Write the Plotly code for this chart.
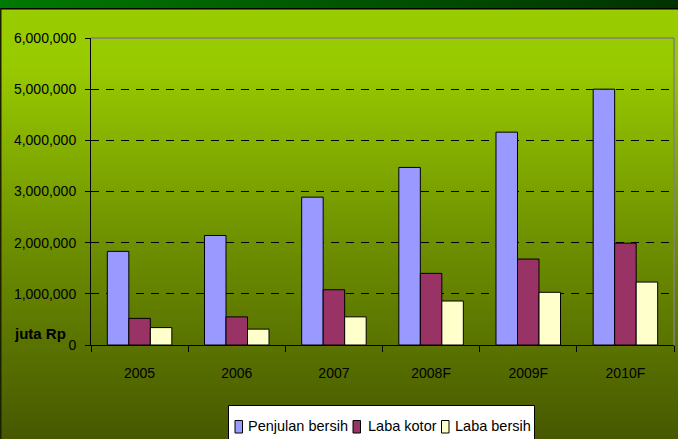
import base64
import plotly.graph_objects as go

years = ["2005", "2006", "2007", "2008F", "2009F", "2010F"]
penjualan_bersih = [1830000, 2140000, 2890000, 3470000, 4160000, 5000000]
laba_kotor = [520000, 550000, 1080000, 1400000, 1680000, 1990000]
laba_bersih = [340000, 310000, 550000, 860000, 1030000, 1230000]
y_ticks = [0, 1000000, 2000000, 3000000, 4000000, 5000000, 6000000]
series_names = ["Penjulan bersih", "Laba kotor", "Laba bersih"]
series_colors = ["#9999ff", "#993366", "#ffffcc"]

W, H = 678, 439
L, R, T, B = 91, 4, 38, 94
PW, PH = W - L - R, H - T - B

FONT = "Liberation Sans, Arial, sans-serif"


def px(x):
    return (x - L) / PW


def py(y):
    return (H - B - y) / PH


svg = f"""<svg xmlns='http://www.w3.org/2000/svg' width='{W}' height='{H}' viewBox='0 0 {W} {H}' preserveAspectRatio='none'>
<defs>
<linearGradient id='h' x1='0' x2='1' y1='0' y2='0'><stop offset='0' stop-color='#007a00'/><stop offset='1' stop-color='#003300'/></linearGradient>
<linearGradient id='v' x1='0' x2='0' y1='0' y2='1'><stop offset='0' stop-color='#9acd00'/><stop offset='0.15' stop-color='#98ca00'/><stop offset='0.55' stop-color='#6e9000'/><stop offset='1' stop-color='#475800'/></linearGradient>
</defs>
<rect width='{W}' height='{H}' fill='url(#v)'/>
<rect width='{W}' height='8' fill='url(#h)'/>
<rect y='8' width='{W}' height='1.5' fill='#000000'/>
<rect x='0' y='8' width='1.5' height='{H}' fill='#1a2000'/>
</svg>"""
src = "data:image/svg+xml;base64," + base64.b64encode(svg.encode()).decode()

fig = go.Figure()
for name, vals, col in zip(series_names, [penjualan_bersih, laba_kotor, laba_bersih], series_colors):
    fig.add_trace(go.Bar(
        x=years, y=vals, name=name,
        marker=dict(color=col, line=dict(color="#000000", width=1)),
    ))

# manual legend (box, swatches, labels)
shapes = [
    dict(type="line", xref="paper", yref="paper", x0=0, x1=1, y0=1, y1=1,
         line=dict(color="#808080", width=1.5), layer="above"),
    dict(type="line", xref="paper", yref="paper", x0=1, x1=1, y0=0, y1=1,
         line=dict(color="#808080", width=1.5), layer="above"),
    dict(type="rect", xref="paper", yref="paper", x0=px(228.5), x1=px(534.5),
         y0=py(405.5), y1=py(446), fillcolor="#ffffff",
         line=dict(color="#000000", width=1), layer="above"),
]
annotations = [dict(
    text="<b>juta Rp</b>", xref="paper", yref="paper",
    x=px(40), y=py(333), xanchor="center", yanchor="middle",
    showarrow=False, font=dict(family=FONT, size=15, color="#000000"),
)]
sw_x = [235, 353, 441.5]
tx_x = [245.5, 365.5, 453]
for name, col, sx, tx in zip(series_names, series_colors, sw_x, tx_x):
    shapes.append(dict(type="rect", xref="paper", yref="paper",
                       x0=px(sx), x1=px(sx + 7.5), y0=py(433), y1=py(420.5),
                       fillcolor=col, line=dict(color="#000000", width=1), layer="above"))
    annotations.append(dict(text=name, xref="paper", yref="paper",
                            x=px(tx), y=py(426), xanchor="left", yanchor="middle",
                            showarrow=False,
                            font=dict(family=FONT, size=14.5, color="#000000")))

fig.update_layout(
    width=W, height=H,
    margin=dict(l=L, r=R, t=T, b=B, pad=0, autoexpand=False),
    paper_bgcolor="#5a7000",
    plot_bgcolor="rgba(0,0,0,0)",
    barmode="group",
    bargap=0.336,
    bargroupgap=0,
    font=dict(family=FONT, size=14, color="#000000"),
    showlegend=False,
    images=[dict(
        source=src, xref="paper", yref="paper",
        x=-L / PW, y=1 + T / PH, sizex=W / PW, sizey=H / PH,
        xanchor="left", yanchor="top", sizing="stretch", layer="below",
    )],
    shapes=shapes,
    annotations=annotations,
)

fig.update_xaxes(
    type="category", automargin=False,
    showline=True, linecolor="#000000", linewidth=1,
    ticks="outside", tickson="boundaries", ticklen=6, tickcolor="#000000",
    ticklabelstandoff=15,
    showgrid=False,
    tickfont=dict(family=FONT, size=14, color="#000000"),
)
fig.update_yaxes(
    range=[0, 6000000], automargin=False,
    tickvals=y_ticks,
    tickformat=",d",
    showline=True, linecolor="#000000", linewidth=1,
    ticks="outside", ticklen=5, tickcolor="#000000",
    ticklabelstandoff=6,
    showgrid=True, gridcolor="#000000", gridwidth=1, griddash="8px,7px",
    zeroline=False,
    tickfont=dict(family=FONT, size=14, color="#000000"),
)

fig.write_html(
    "out.html",
    config={"displayModeBar": False},
    post_script="document.body.style.margin='0';document.body.style.overflow='hidden';",
)
